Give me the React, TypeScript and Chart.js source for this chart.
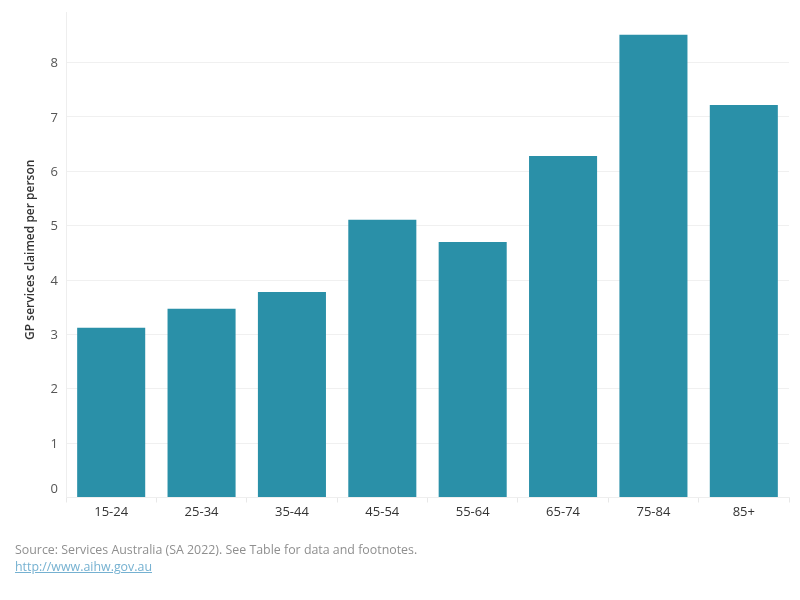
import React, { useEffect, useRef } from "react";
import { Chart, registerables } from "chart.js";

Chart.register(...registerables);

const categories = ["15-24", "25-34", "35-44", "45-54", "55-64", "65-74", "75-84", "85+"];
const values = [3.12, 3.47, 3.78, 5.11, 4.7, 6.28, 8.51, 7.22];
const yTicks = [0, 1, 2, 3, 4, 5, 6, 7, 8];
const yTitle = "GP services claimed per person";
const sourceText = "Source: Services Australia (SA 2022). See Table for data and footnotes.";
const linkText = "http://www.aihw.gov.au";

const FONT = "'Open Sans', sans-serif";

const yLabelPlugin = {
  id: "yLabels",
  afterDraw(chart: any) {
    const ctx = chart.ctx;
    const y = chart.scales.y;
    ctx.save();
    ctx.font = "13px " + FONT;
    ctx.fillStyle = "#555555";
    ctx.textAlign = "right";
    ctx.textBaseline = "middle";
    yTicks.forEach((v) => {
      let py = y.getPixelForValue(v) + 1;
      if (v === 0) py -= 9;
      ctx.fillText(String(v), 58, py);
    });
    ctx.translate(31, (chart.chartArea.top + chart.chartArea.bottom) / 2 - 5);
    ctx.rotate(-Math.PI / 2);
    ctx.textAlign = "center";
    ctx.font = "600 12px " + FONT;
    ctx.fillStyle = "#333333";
    ctx.fillText(yTitle, 0, 0);
    ctx.restore();
  },
};

export default function App() {
  const ref = useRef<HTMLCanvasElement>(null);
  useEffect(() => {
    document.body.style.margin = "0";
    const chart = new Chart(ref.current!, {
      type: "bar",
      data: {
        labels: categories,
        datasets: [
          {
            data: values,
            backgroundColor: "#2A90A8",
            categoryPercentage: 0.753,
            barPercentage: 1,
          },
        ],
      },
      plugins: [yLabelPlugin],
      options: {
        animation: false,
        responsive: false,
        layout: { padding: { top: 12, right: 11, left: 0, bottom: 0 } },
        plugins: { legend: { display: false }, tooltip: { enabled: false } },
        scales: {
          x: {
            afterFit: (s: any) => {
              s.height = 102.5;
            },
            grid: {
              offset: true,
              drawOnChartArea: false,
              tickLength: 5,
              color: "#e8e8e8",
            },
            border: { color: "#eeeeee" },
            ticks: {
              font: { family: FONT, size: 13 },
              color: "#333333",
              padding: 2,
              maxRotation: 0,
            },
          },
          y: {
            min: 0,
            max: 8.93,
            afterFit: (s: any) => {
              s.width = 66;
            },
            afterBuildTicks: (s: any) => {
              s.ticks = yTicks.map((v) => ({ value: v }));
            },
            grid: { color: "#f0f0f0", drawTicks: false },
            border: { color: "#eeeeee" },
            ticks: { display: false },
          },
        },
      },
    });
    return () => chart.destroy();
  }, []);
  return (
    <div style={{ position: "relative", width: 800, height: 600, background: "#fff" }}>
      <canvas ref={ref} width={800} height={600} style={{ display: "block" }} />
      <div
        style={{
          position: "absolute",
          left: 15,
          top: 541,
          fontFamily: FONT,
          fontSize: 12.4,
          lineHeight: "17px",
          color: "#8f8f8f",
          whiteSpace: "nowrap",
        }}
      >
        <div>{sourceText}</div>
        <div style={{ color: "#75b1d1", textDecoration: "underline" }}>{linkText}</div>
      </div>
    </div>
  );
}
